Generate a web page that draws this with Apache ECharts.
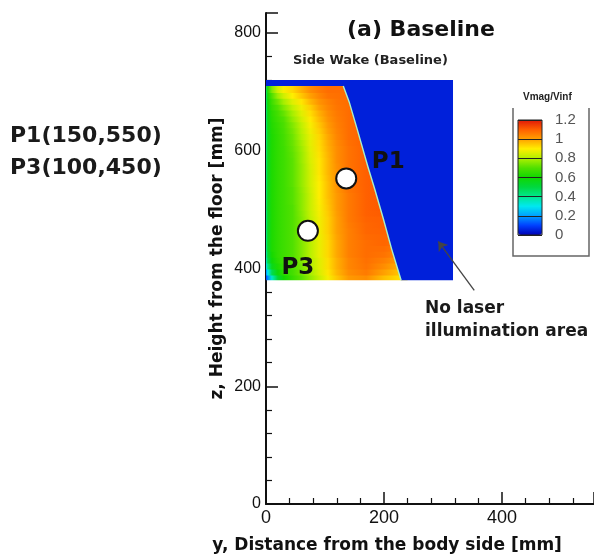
<!DOCTYPE html>
<html><head><meta charset="utf-8">
<script src="https://cdn.jsdelivr.net/npm/echarts@6/dist/echarts.min.js"></script>
<style>html,body{margin:0;padding:0;background:#fff}#c{width:594px;height:559px}</style>
</head><body><div id="c"></div>
<script>
// ---- data ----
// velocity field Vmag/Vinf: strips 10 mm tall (z of strip bottom); one column array per fieldX position (mm)
const fieldZ = [380, 390, 400, 410, 420, 430, 440, 450, 460, 470, 480, 490, 500, 510, 520, 530, 540,
                550, 560, 570, 580, 590, 600, 610, 620, 630, 640, 650, 660, 670, 680, 690, 700];
const fieldStep = 10;
const fieldX = [0, 3, 10, 20, 30, 45, 60, 75, 90, 105, 120, 140, 170, 200, 240];
const v_x0   = [0.10,0.18,0.28,0.34,0.37,0.39,0.40,0.40,0.41,0.41,0.41,0.41,0.42,0.42,0.42,0.42,0.42,0.42,0.42,0.42,0.42,0.42,0.42,0.42,0.42,0.42,0.42,0.43,0.43,0.43,0.44,0.44,0.45];
const v_x3   = [0.18,0.30,0.42,0.49,0.52,0.54,0.55,0.55,0.55,0.55,0.55,0.55,0.56,0.56,0.56,0.56,0.56,0.56,0.56,0.56,0.56,0.56,0.56,0.56,0.56,0.565,0.57,0.575,0.58,0.59,0.60,0.61,0.63];
const v_x10  = [0.34,0.48,0.56,0.59,0.61,0.62,0.62,0.62,0.62,0.62,0.62,0.62,0.62,0.62,0.62,0.62,0.62,0.62,0.62,0.62,0.62,0.62,0.62,0.62,0.62,0.625,0.63,0.635,0.64,0.655,0.67,0.70,0.75];
const v_x20  = [0.52,0.59,0.62,0.64,0.65,0.65,0.65,0.65,0.65,0.65,0.65,0.65,0.65,0.65,0.65,0.65,0.65,0.65,0.65,0.65,0.65,0.65,0.65,0.65,0.65,0.655,0.66,0.67,0.68,0.70,0.73,0.78,0.84];
const v_x30  = [0.60,0.64,0.66,0.67,0.67,0.67,0.67,0.67,0.67,0.67,0.67,0.67,0.67,0.67,0.67,0.67,0.67,0.67,0.67,0.67,0.67,0.67,0.67,0.675,0.68,0.685,0.69,0.70,0.72,0.75,0.79,0.84,0.89];
const v_x45  = [0.66,0.68,0.69,0.70,0.70,0.70,0.70,0.70,0.70,0.70,0.70,0.70,0.70,0.705,0.705,0.705,0.71,0.71,0.71,0.71,0.71,0.715,0.72,0.725,0.73,0.74,0.75,0.77,0.79,0.82,0.86,0.90,0.93];
const v_x60  = [0.71,0.73,0.74,0.75,0.75,0.75,0.75,0.75,0.75,0.75,0.75,0.755,0.76,0.76,0.76,0.765,0.77,0.77,0.77,0.77,0.775,0.775,0.78,0.79,0.80,0.81,0.82,0.84,0.86,0.88,0.91,0.95,0.98];
const v_x75  = [0.77,0.79,0.80,0.80,0.81,0.81,0.81,0.815,0.82,0.82,0.82,0.825,0.83,0.83,0.83,0.835,0.84,0.84,0.84,0.845,0.85,0.855,0.86,0.865,0.87,0.88,0.89,0.905,0.92,0.94,0.97,1.00,1.03];
const v_x90  = [0.83,0.85,0.86,0.86,0.87,0.87,0.87,0.875,0.88,0.88,0.88,0.885,0.89,0.895,0.90,0.90,0.90,0.905,0.91,0.91,0.91,0.915,0.92,0.925,0.93,0.94,0.95,0.965,0.98,1.00,1.02,1.04,1.06];
const v_x105 = [0.89,0.91,0.92,0.92,0.93,0.93,0.93,0.935,0.94,0.94,0.94,0.945,0.95,0.955,0.96,0.96,0.96,0.965,0.97,0.97,0.97,0.975,0.98,0.985,0.99,1.00,1.01,1.02,1.03,1.04,1.05,1.07,1.08];
const v_x120 = [0.95,0.97,0.98,0.98,0.99,0.99,0.99,0.995,1.00,1.00,1.00,1.005,1.01,1.01,1.01,1.015,1.02,1.02,1.02,1.025,1.03,1.03,1.03,1.035,1.04,1.045,1.05,1.055,1.06,1.065,1.07,1.075,1.08];
const v_x140 = [1.01,1.03,1.04,1.04,1.05,1.05,1.05,1.05,1.05,1.055,1.06,1.06,1.06,1.06,1.06,1.065,1.07,1.07,1.07,1.07,1.07,1.07,1.07,1.075,1.08,1.08,1.08,1.08,1.08,1.08,1.08,1.08,1.08];
const v_x170 = [1.03,1.06,1.07,1.075,1.08,1.08,1.08,1.085,1.09,1.09,1.095,1.10,1.10,1.10,1.10,1.10,1.10,1.10,1.10,1.10,1.10,1.10,1.10,1.10,1.10,1.10,1.10,1.10,1.10,1.10,1.10,1.10,1.10];
const v_x200 = [0.96,1.00,1.03,1.05,1.07,1.08,1.09,1.09,1.095,1.10,1.10,1.105,1.11,1.11,1.11,1.11,1.11,1.11,1.11,1.11,1.11,1.11,1.11,1.11,1.11,1.11,1.11,1.11,1.11,1.11,1.11,1.11,1.11];
const v_x240 = [0.90,0.93,0.96,0.99,1.02,1.04,1.06,1.07,1.08,1.085,1.09,1.09,1.095,1.10,1.10,1.10,1.10,1.10,1.10,1.10,1.10,1.10,1.10,1.10,1.10,1.10,1.10,1.10,1.10,1.10,1.10,1.10,1.10];
const fieldCols = [v_x0, v_x3, v_x10, v_x20, v_x30, v_x45, v_x60, v_x75, v_x90, v_x105, v_x120, v_x140, v_x170, v_x200, v_x240];
// no-laser-illumination area (outline, mm) and its value
const noLaserX = [0, 317, 317, 229, 213, 199, 184, 173, 155, 141, 131, 0];
const noLaserZ = [720, 720, 380, 380, 433, 484, 536, 572, 635, 683, 710, 710];
const noLaserV = 0.05;
// measurement points as drawn
const probeNames = ['P1', 'P3'];
const probeX = [136, 71];
const probeZ = [553, 464];
// annotation arrow (tail, head) in mm
const arrowX = [353, 292];
const arrowZ = [363, 446];
// colour scale
const cbMin = 0, cbMax = 1.2;
const cbColors = ['#0000b4', '#0040ff', '#00a0ff', '#00e8f0', '#00e890', '#00d840', '#10d800',
                  '#50e000', '#b0f000', '#ffee00', '#ffa000', '#ff6000', '#e01808'];

const colorOf = v => echarts.color.lerp(Math.max(0, Math.min(1, (v - cbMin) / (cbMax - cbMin))), cbColors);
const BOLD = 'DejaVu Sans';
const chart = echarts.init(document.getElementById('c'));
const xLast = fieldX[fieldX.length - 1];

chart.setOption({
  animation: false,
  title: { text: '(a) Baseline', left: 347, top: 19, padding: 0,
    textStyle: { fontFamily: BOLD, fontWeight: 'bold', fontSize: 22, color: '#111' } },
  grid: [
    { left: 266, top: 13, width: 328, height: 492 },
    { left: 518, top: 120, width: 24, height: 115, show: true, borderColor: '#222', borderWidth: 1, z: 10 }
  ],
  xAxis: [
    { type: 'value', gridIndex: 0, min: 0, max: 556, interval: 200,
      name: 'y, Distance from the body side [mm]', nameLocation: 'middle', nameGap: 33, nameMoveOverlap: false,
      nameTextStyle: { fontFamily: BOLD, fontWeight: 'bold', fontSize: 17, color: '#111', padding: [0, 86, 0, 0] },
      axisLine: { onZero: false, lineStyle: { color: '#111', width: 2 } },
      axisTick: { inside: true, length: 12, lineStyle: { color: '#111', width: 1.5 } },
      minorTick: { show: true, splitNumber: 5, length: 6, lineStyle: { color: '#111', width: 1.2 } },
      axisLabel: { fontFamily: 'Liberation Sans', fontSize: 18, color: '#111', margin: 5, showMaxLabel: false },
      splitLine: { show: false } },
    { type: 'value', gridIndex: 1, min: 0, max: 1, show: false }
  ],
  yAxis: [
    { type: 'value', gridIndex: 0, min: 0, max: 834, interval: 200,
      name: 'z, Height from the floor [mm]', nameLocation: 'middle', nameGap: 40, nameMoveOverlap: false,
      nameTextStyle: { fontFamily: BOLD, fontWeight: 'bold', fontSize: 17, color: '#111' },
      axisLine: { onZero: false, lineStyle: { color: '#111', width: 2 } },
      axisTick: { inside: true, length: 12, lineStyle: { color: '#111', width: 1.5 } },
      minorTick: { show: true, splitNumber: 5, length: 6, lineStyle: { color: '#111', width: 1.2 } },
      axisLabel: { fontFamily: 'Liberation Sans', fontSize: 16, color: '#111', margin: 5, showMaxLabel: false },
      splitLine: { show: false } },
    { type: 'value', gridIndex: 1, min: cbMin, max: cbMax, interval: 0.2, position: 'right', z: 10,
      axisLine: { show: false }, axisTick: { show: false },
      axisLabel: { fontFamily: 'Liberation Sans', fontSize: 15, color: '#555', margin: 13 },
      splitLine: { show: true, lineStyle: { color: '#222', width: 1 } } }
  ],
  visualMap: {
    type: 'continuous', min: cbMin, max: cbMax, calculable: false, seriesIndex: 0,
    left: 518, top: 120, padding: 0, itemWidth: 24, itemHeight: 115, orient: 'vertical',
    inRange: { color: cbColors }, text: null, hoverLink: false
  },
  series: [
    { // velocity field strips
      type: 'custom', xAxisIndex: 0, yAxisIndex: 0, clip: true, silent: true,
      data: fieldZ.map(z => [z]),
      renderItem(params, api) {
        const i = params.dataIndex;
        const z0 = fieldZ[i];
        const a = api.coord([fieldX[0], z0 + fieldStep]);
        const b = api.coord([xLast, z0]);
        const ext = i > 0 ? 1 : 0;
        const stops = fieldX.map((x, k) => ({ offset: (x - fieldX[0]) / (xLast - fieldX[0]), color: colorOf(fieldCols[k][i]) }));
        return { type: 'rect', shape: { x: a[0], y: a[1], width: b[0] - a[0], height: b[1] - a[1] + ext },
          style: { fill: new echarts.graphic.LinearGradient(0, 0, 1, 0, stops) } };
      }
    },
    { // no laser illumination area
      type: 'custom', xAxisIndex: 0, yAxisIndex: 0, clip: true, silent: true,
      data: noLaserX.map((x, i) => [x, noLaserZ[i]]),
      renderItem(params, api) {
        if (params.dataIndex !== 0) return null;
        const pts = noLaserX.map((x, i) => api.coord([x, noLaserZ[i]]));
        return { type: 'polygon', shape: { points: pts }, style: { fill: colorOf(noLaserV) } };
      }
    },
    { // thin edge of the illuminated area
      type: 'custom', xAxisIndex: 0, yAxisIndex: 0, clip: true, silent: true,
      data: [[0]],
      renderItem(params, api) {
        const pts = [];
        for (let i = 3; i <= 10; i++) pts.push(api.coord([noLaserX[i], noLaserZ[i]]));
        return { type: 'polyline', shape: { points: pts }, style: { stroke: '#a8f0c8', lineWidth: 1.4, fill: null } };
      }
    },
    {
      type: 'lines', coordinateSystem: 'cartesian2d', xAxisIndex: 0, yAxisIndex: 0, silent: true,
      symbol: ['none', 'arrow'], symbolSize: 9,
      lineStyle: { color: '#444', width: 1.3, opacity: 1 },
      data: [{ coords: [[arrowX[0], arrowZ[0]], [arrowX[1], arrowZ[1]]] }]
    },
    {
      type: 'scatter', xAxisIndex: 0, yAxisIndex: 0, symbolSize: 20, silent: true,
      itemStyle: { color: '#fff', borderColor: '#111', borderWidth: 2, opacity: 1 },
      data: probeX.map((x, i) => ({ value: [x, probeZ[i]], name: probeNames[i],
        label: { offset: i === 0 ? [42, -16] : [-10, 37] } })),
      label: { show: true, position: 'inside', formatter: p => p.name,
        fontFamily: BOLD, fontWeight: 'bold', fontSize: 23, color: '#111' }
    }
  ],
  graphic: [
    { type: 'text', left: 371 - 78, top: 54, style: { text: 'Side Wake (Baseline)', font: 'bold 13px "DejaVu Sans"', fill: '#222' } },
    { type: 'text', left: 10, top: 125, style: { text: 'P1(150,550)', font: 'bold 22px "DejaVu Sans"', fill: '#1a1a1a' } },
    { type: 'text', left: 10, top: 157, style: { text: 'P3(100,450)', font: 'bold 22px "DejaVu Sans"', fill: '#1a1a1a' } },
    { type: 'text', left: 425, top: 300, style: { text: 'No laser', font: 'bold 17px "DejaVu Sans"', fill: '#1a1a1a' } },
    { type: 'text', left: 425, top: 323, style: { text: 'illumination area', font: 'bold 17px "DejaVu Sans"', fill: '#1a1a1a' } },
    { type: 'text', left: 523, top: 92, style: { text: 'Vmag/Vinf', font: 'bold 10px "Liberation Sans"', fill: '#222' } },
    { type: 'polyline', shape: { points: [[513, 108], [513, 256], [589, 256], [589, 108]] },
      style: { stroke: '#666', lineWidth: 1.5, fill: null } }
  ]
});
</script></body></html>
